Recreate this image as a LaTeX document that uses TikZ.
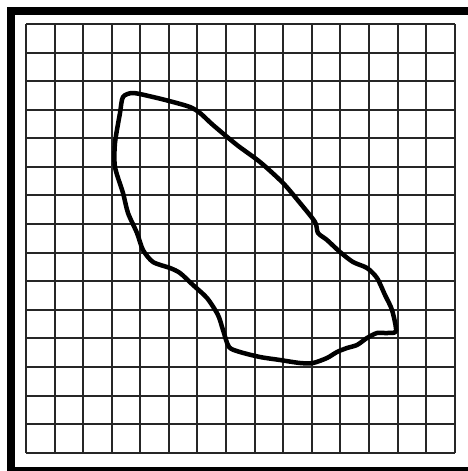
\documentclass[tikz,border=0pt]{standalone}
\begin{document}
\begin{tikzpicture}[x=1pt,y=-1pt,
  gridline/.style={line width=2pt,black!85},
  frameline/.style={line width=8pt,black},
  outline/.style={line width=4.5pt,black,line join=round,line cap=round}]
\useasboundingbox (0,0) rectangle (468,471);
\fill[white] (0,0) rectangle (468,471);
\draw[frameline] (11,11) rectangle (484,471);
\foreach \i in {0,...,15}{
  \draw[gridline] ({26+\i*28.58},24) -- ({26+\i*28.58},452.7);
  \draw[gridline] (26,{24+\i*28.58}) -- (454.7,{24+\i*28.58});
}
\draw[outline] plot[smooth cycle,tension=0.45] coordinates {
(123,97) (133,93) (153,97) (173,102) (190,107) (200,113) (213,125) (237,145)
(260,162) (283,183) (300,203) (315,222) (318,233) (327,240) (340,252) (353,262)
(367,268) (377,278) (385,295) (392,310) (396,331) (387,333) (377,333) (367,338)
(357,345) (347,348) (337,352) (327,358) (313,363) (300,363) (280,360) (260,357)
(240,352) (229,347) (223,330) (218,315) (207,298) (193,285) (180,273) (170,268)
(153,262) (143,250) (137,233) (128,213) (123,193) (115,167) (115,143) (120,113)};
\end{tikzpicture}
\end{document}
